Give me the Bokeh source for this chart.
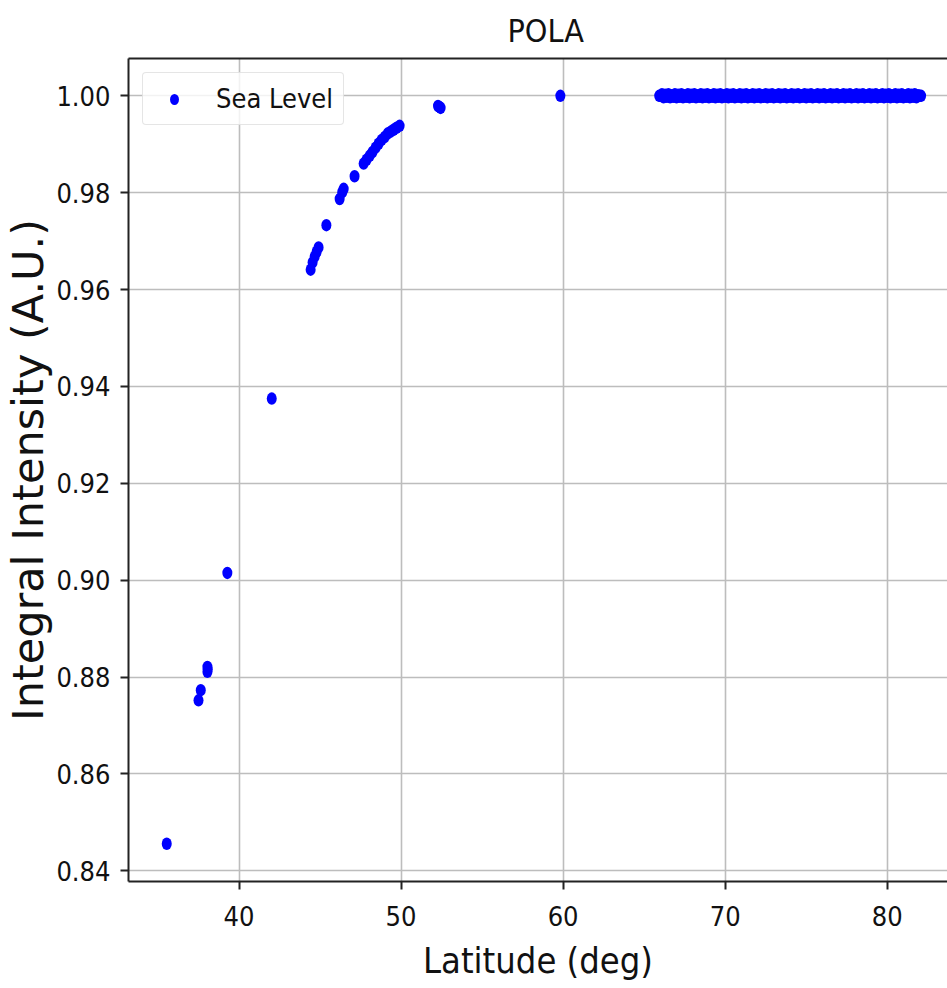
from bokeh.plotting import figure
from bokeh.models import (ColumnDataSource, Range1d, FixedTicker, NumeralTickFormatter,
                          LinearAxis, Legend, LegendItem)
from bokeh.embed import file_html
from bokeh.resources import INLINE

# ---- data ----
lat_rise = [35.54, 37.50, 37.64, 38.05, 38.05, 38.07, 39.28, 42.02,
            44.42, 44.54, 44.67, 44.79, 44.91, 45.39, 46.21, 46.37, 46.46, 47.13,
            47.69, 47.87, 48.06, 48.24, 48.43, 48.61, 48.80, 48.99, 49.17, 49.36,
            49.54, 49.72, 49.91, 52.28, 52.37, 52.44, 59.83]
int_rise = [0.8456, 0.8752, 0.8773, 0.8821, 0.8811, 0.8816, 0.9015, 0.9375,
            0.9641, 0.9656, 0.9668, 0.9678, 0.9687, 0.9733, 0.9787, 0.9801, 0.9808, 0.9834,
            0.9860, 0.9868, 0.9876, 0.9884, 0.9893, 0.9901, 0.9909, 0.9915, 0.9922, 0.9926,
            0.9930, 0.9934, 0.9938, 0.9979, 0.9977, 0.9975, 1.0000]
lat_plateau = [65.93,
               66.0, 66.1, 66.2, 66.3, 66.4, 66.5, 66.6, 66.7, 66.8, 66.9,
               67.0, 67.1, 67.2, 67.3, 67.4, 67.5, 67.6, 67.7, 67.8, 67.9,
               68.0, 68.1, 68.2, 68.3, 68.4, 68.5, 68.6, 68.7, 68.8, 68.9,
               69.0, 69.1, 69.2, 69.3, 69.4, 69.5, 69.6, 69.7, 69.8, 69.9,
               70.0, 70.1, 70.2, 70.3, 70.4, 70.5, 70.6, 70.7, 70.8, 70.9,
               71.0, 71.1, 71.2, 71.3, 71.4, 71.5, 71.6, 71.7, 71.8, 71.9,
               72.0, 72.1, 72.2, 72.3, 72.4, 72.5, 72.6, 72.7, 72.8, 72.9,
               73.0, 73.1, 73.2, 73.3, 73.4, 73.5, 73.6, 73.7, 73.8, 73.9,
               74.0, 74.1, 74.2, 74.3, 74.4, 74.5, 74.6, 74.7, 74.8, 74.9,
               75.0, 75.1, 75.2, 75.3, 75.4, 75.5, 75.6, 75.7, 75.8, 75.9,
               76.0, 76.1, 76.2, 76.3, 76.4, 76.5, 76.6, 76.7, 76.8, 76.9,
               77.0, 77.1, 77.2, 77.3, 77.4, 77.5, 77.6, 77.7, 77.8, 77.9,
               78.0, 78.1, 78.2, 78.3, 78.4, 78.5, 78.6, 78.7, 78.8, 78.9,
               79.0, 79.1, 79.2, 79.3, 79.4, 79.5, 79.6, 79.7, 79.8, 79.9,
               80.0, 80.1, 80.2, 80.3, 80.4, 80.5, 80.6, 80.7, 80.8, 80.9,
               81.0, 81.1, 81.2, 81.3, 81.4, 81.5, 81.6, 81.7, 81.8, 81.9,
               82.0, 82.09]
int_plateau = [1.0000,
               1.0000, 1.0003, 0.9997, 1.0002, 0.9998, 1.0003, 0.9997, 1.0001, 0.9998, 1.0003,
               0.9997, 1.0002, 0.9998, 1.0003, 0.9997, 1.0001, 0.9998, 1.0003, 0.9997, 1.0002,
               0.9998, 1.0003, 0.9997, 1.0001, 0.9998, 1.0003, 0.9997, 1.0002, 0.9998, 1.0003,
               0.9997, 1.0001, 0.9998, 1.0003, 0.9997, 1.0002, 0.9998, 1.0003, 0.9997, 1.0001,
               0.9998, 1.0003, 0.9997, 1.0002, 0.9998, 1.0003, 0.9997, 1.0001, 0.9998, 1.0003,
               0.9997, 1.0002, 0.9998, 1.0003, 0.9997, 1.0001, 0.9998, 1.0003, 0.9997, 1.0002,
               0.9998, 1.0003, 0.9997, 1.0001, 0.9998, 1.0003, 0.9997, 1.0002, 0.9998, 1.0003,
               0.9997, 1.0001, 0.9998, 1.0003, 0.9997, 1.0002, 0.9998, 1.0003, 0.9997, 1.0001,
               0.9998, 1.0003, 0.9997, 1.0002, 0.9998, 1.0003, 0.9997, 1.0001, 0.9998, 1.0003,
               0.9997, 1.0002, 0.9998, 1.0003, 0.9997, 1.0001, 0.9998, 1.0003, 0.9997, 1.0002,
               0.9998, 1.0003, 0.9997, 1.0001, 0.9998, 1.0003, 0.9997, 1.0002, 0.9998, 1.0003,
               0.9997, 1.0001, 0.9998, 1.0003, 0.9997, 1.0002, 0.9998, 1.0003, 0.9997, 1.0001,
               0.9998, 1.0003, 0.9997, 1.0002, 0.9998, 1.0003, 0.9997, 1.0001, 0.9998, 1.0003,
               0.9997, 1.0002, 0.9998, 1.0003, 0.9997, 1.0001, 0.9998, 1.0003, 0.9997, 1.0002,
               0.9998, 1.0003, 0.9997, 1.0001, 0.9998, 1.0003, 0.9997, 1.0002, 0.9998, 1.0003,
               0.9997, 1.0001, 0.9998, 1.0003, 0.9997, 1.0002, 0.9998, 1.0003, 0.9997, 1.0001,
               1.0000, 1.0000]
x_ticks = [40, 50, 60, 70, 80]
y_ticks = [0.84, 0.86, 0.88, 0.90, 0.92, 0.94, 0.96, 0.98, 1.00]
series_name = "Sea Level"
title_text = "POLA"
x_label = "Latitude (deg)"
y_label = "Integral Intensity (A.U.)"

COND = "'DejaVu Sans Condensed', 'DejaVu Sans'"
INK = "#111111"
SPINE = "#222222"

src = ColumnDataSource(data=dict(x=lat_rise + lat_plateau, y=int_rise + int_plateau))

p = figure(width=947, height=988, output_backend="svg", toolbar_location=None,
           x_range=Range1d(33.18, 83.72), y_range=Range1d(0.8378, 1.0077),
           min_border_left=127, min_border_right=0, min_border_top=57,
           min_border_bottom=107, background_fill_color="white",
           border_fill_color="white")
p.outline_line_color = None

p.title.text = title_text
p.title.align = "left"
p.title.offset = 379
p.title.standoff = 18
p.title.text_font = COND
p.title.text_font_size = "32px"
p.title.text_font_style = "normal"
p.title.text_color = INK

xb = p.below[0]
yl = p.left[0]

for ax in (xb, yl):
    ax.axis_line_color = SPINE
    ax.axis_line_width = 2
    ax.major_tick_line_color = SPINE
    ax.major_tick_line_width = 2
    ax.major_tick_out = 8
    ax.major_tick_in = 0
    ax.minor_tick_line_color = None
    ax.major_label_text_font = COND
    ax.major_label_text_font_size = "27px"
    ax.major_label_text_color = INK
    ax.axis_label_text_font_style = "normal"
    ax.axis_label_text_color = INK

xb.ticker = FixedTicker(ticks=x_ticks)
yl.ticker = FixedTicker(ticks=y_ticks)
yl.formatter = NumeralTickFormatter(format="0.00")
xb.major_label_standoff = 16
yl.major_label_standoff = 10

xb.axis_label = x_label
xb.axis_label_text_font = COND
xb.axis_label_text_font_size = "36px"
xb.axis_label_standoff = 11

yl.axis_label = y_label
yl.axis_label_text_font = "DejaVu Sans"
yl.axis_label_text_font_size = "43px"
yl.axis_label_standoff = 0

# top spine (the right spine is cropped away in the reference)
top = LinearAxis(ticker=FixedTicker(ticks=[]), major_tick_line_color=None,
                 minor_tick_line_color=None, major_tick_out=0, major_tick_in=0,
                 major_label_standoff=0, axis_line_color=SPINE, axis_line_width=2)
p.add_layout(top, "above")

p.xgrid.ticker = FixedTicker(ticks=x_ticks)
p.ygrid.ticker = FixedTicker(ticks=y_ticks)
for g in (p.xgrid[0], p.ygrid[0]):
    g.grid_line_color = "#bdbdbd"
    g.grid_line_width = 1.6

r = p.ellipse(x="x", y="y", width=10, height=12.5, width_units="screen",
              height_units="screen", source=src, fill_color="#0000ff",
              line_color=None)

legend = Legend(items=[LegendItem(label=series_name, renderers=[r])],
                location="top_left", margin=14, padding=10,
                glyph_width=42, glyph_height=14, label_standoff=21,
                label_text_font=COND, label_text_font_size="27px",
                label_text_color=INK,
                border_line_color="#cccccc", border_line_width=1.5,
                background_fill_color="white", background_fill_alpha=0.8)
if "border_radius" in Legend.properties():
    legend.border_radius = 4
p.add_layout(legend)

open("out.html", "w").write(file_html(p, INLINE))
